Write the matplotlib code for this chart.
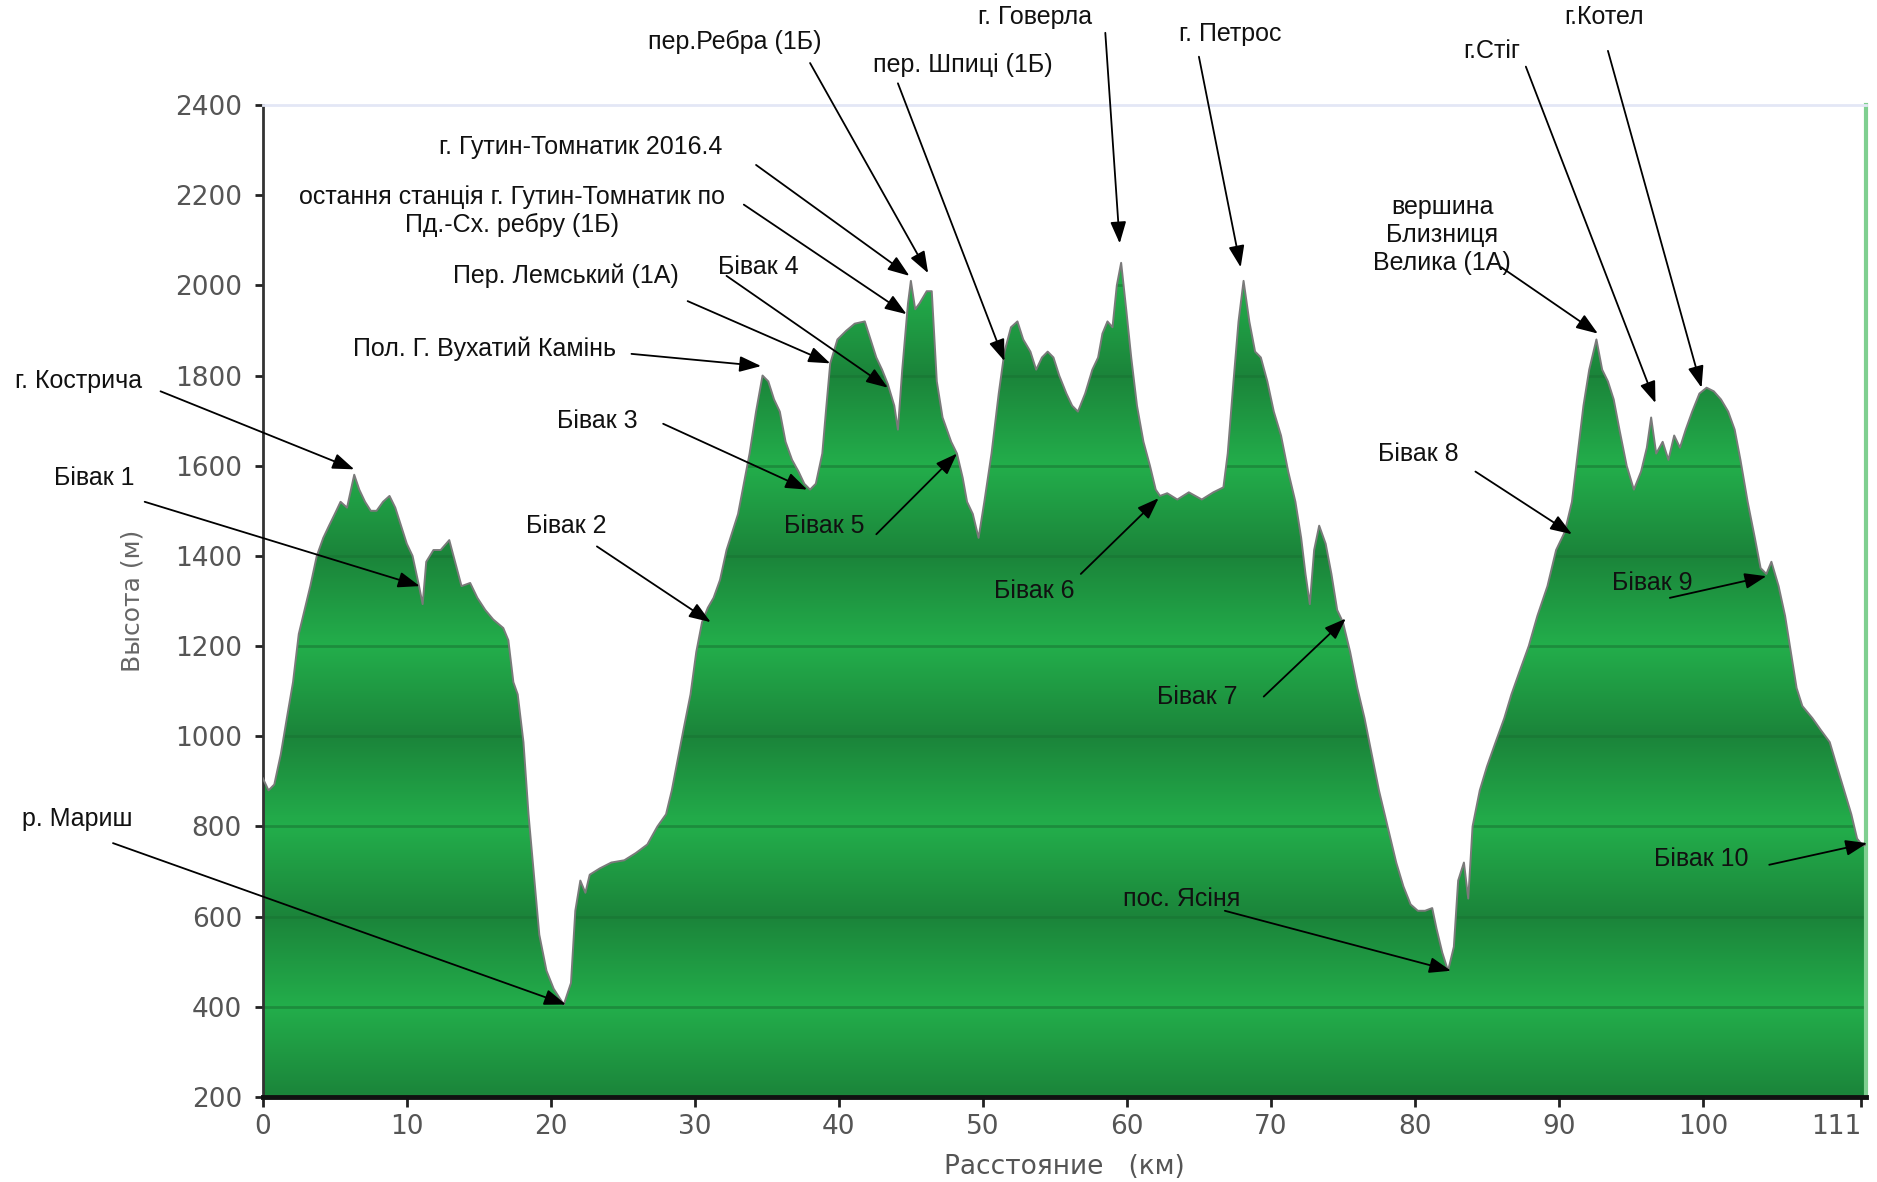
import numpy as np
import matplotlib
matplotlib.use("Agg")
import matplotlib.pyplot as plt
from matplotlib.patches import Polygon

plt.rcParams['font.family'] = ['Liberation Sans', 'DejaVu Sans']

# профиль маршрута: расстояние (км) и высота (м)
km = [0.0, 0.4, 0.8, 1.25, 1.67, 2.1, 2.5, 2.9, 3.3, 3.75, 4.2, 4.6, 5.0, 5.4, 5.85,
      6.35, 6.7, 7.1, 7.5, 7.9, 8.35, 8.8, 9.2, 9.6, 10.0, 10.4, 10.85, 11.1, 11.35,
      11.85, 12.35, 12.95, 13.35, 13.8, 14.4, 14.9, 15.45, 16.0, 16.7, 17.05, 17.4,
      17.7, 18.1, 18.45, 18.9, 19.2, 19.7, 20.2, 20.9, 21.4, 21.7, 22.05, 22.4, 22.7,
      23.4, 24.2, 25.1, 25.9, 26.7, 27.4, 28.0, 28.4, 28.8, 29.2, 29.7, 30.1, 30.5,
      30.9, 31.3, 31.75, 32.2, 32.6, 33.0, 33.4, 33.8, 34.25, 34.7, 35.1, 35.5, 35.9,
      36.3, 36.75, 37.2, 37.6, 38.0, 38.4, 38.85, 39.1, 39.4, 39.9, 40.5, 41.1, 41.8,
      42.2, 42.6, 43.0, 43.4, 43.85, 44.1, 44.4, 44.8, 45.0, 45.3, 45.6, 46.1, 46.45,
      46.8, 47.2, 47.8, 48.2, 48.6, 48.9, 49.3, 49.7, 50.1, 50.6, 51.1, 51.5, 51.95,
      52.4, 52.8, 53.3, 53.7, 54.1, 54.5, 54.9, 55.3, 55.8, 56.2, 56.6, 57.1, 57.6,
      58.0, 58.3, 58.65, 59.0, 59.3, 59.6, 59.95, 60.3, 60.7, 61.15, 61.6, 62.0, 62.3,
      62.8, 63.5, 64.3, 65.2, 66.0, 66.7, 67.0, 67.4, 67.75, 68.1, 68.5, 68.9, 69.3,
      69.75, 70.2, 70.7, 71.2, 71.7, 72.1, 72.4, 72.7, 73.0, 73.35, 73.8, 74.2, 74.6,
      75.0, 75.5, 76.0, 76.5, 77.0, 77.5, 78.1, 78.7, 79.2, 79.7, 80.2, 80.7, 81.2,
      81.5, 81.9, 82.3, 82.7, 83.0, 83.4, 83.7, 84.0, 84.5, 85.0, 85.6, 86.2, 86.7,
      87.3, 87.9, 88.5, 89.2, 89.8, 90.4, 90.9, 91.3, 91.7, 92.1, 92.6, 93.0, 93.4,
      93.8, 94.2, 94.7, 95.2, 95.7, 96.1, 96.4, 96.75, 97.2, 97.6, 98.0, 98.4, 98.8,
      99.25, 99.75, 100.25, 100.75, 101.25, 101.75, 102.2, 102.6, 103.1, 103.6, 104.0,
      104.4, 104.75, 105.25, 105.7, 106.1, 106.5, 106.9, 107.6, 108.2, 108.8, 109.3,
      109.8, 110.3, 110.7, 111.1, 111.3]
elev = [907, 880, 893, 960, 1040, 1120, 1227, 1280, 1333, 1400, 1440, 1467, 1493, 1520, 1507,
        1580, 1547, 1520, 1500, 1500, 1520, 1533, 1507, 1467, 1427, 1400, 1333, 1293, 1387,
        1413, 1413, 1435, 1387, 1333, 1340, 1307, 1280, 1259, 1240, 1213, 1120,
        1093, 987, 827, 667, 560, 480, 440, 405, 453, 613, 680, 653, 693,
        707, 720, 725, 741, 760, 800, 827, 880, 947, 1013, 1093, 1187, 1253,
        1285, 1307, 1347, 1413, 1453, 1493, 1560, 1627, 1720, 1800, 1787, 1747, 1720,
        1653, 1613, 1587, 1560, 1547, 1560, 1627, 1720, 1827, 1880, 1899, 1915, 1920,
        1880, 1840, 1813, 1781, 1733, 1680, 1813, 1960, 2010, 1947, 1960, 1987, 1987,
        1787, 1707, 1653, 1627, 1573, 1520, 1493, 1440, 1520, 1627, 1760, 1853, 1907,
        1920, 1880, 1853, 1813, 1840, 1853, 1840, 1800, 1760, 1733, 1720, 1760, 1813,
        1840, 1893, 1920, 1907, 2000, 2050, 1947, 1840, 1733, 1653, 1600, 1547, 1533,
        1539, 1525, 1541, 1525, 1541, 1552, 1627, 1787, 1920, 2010, 1920, 1853, 1840,
        1787, 1720, 1667, 1587, 1520, 1440, 1360, 1293, 1413, 1467, 1427, 1360, 1280,
        1253, 1187, 1107, 1040, 960, 880, 800, 720, 667, 627, 613, 613, 619,
        573, 520, 480, 533, 680, 720, 640, 800, 880, 933, 987, 1040, 1093,
        1147, 1200, 1267, 1333, 1413, 1453, 1520, 1627, 1733, 1813, 1880, 1813, 1787,
        1747, 1680, 1600, 1547, 1587, 1640, 1707, 1627, 1653, 1613, 1667, 1640, 1680,
        1720, 1760, 1773, 1765, 1747, 1720, 1680, 1613, 1520, 1440, 1373,
        1360, 1387, 1333, 1267, 1187, 1107, 1067, 1040, 1013, 987, 933,
        880, 827, 773, 757, 760]

y_ticks = [200, 400, 600, 800, 1000, 1200, 1400, 1600, 1800, 2000, 2200, 2400]
x_ticks = [0, 10, 20, 30, 40, 50, 60, 70, 80, 90, 100, 111]

# подписи: текст, точка на профиле (км, м)
notes = [
    ("г. Кострича", 6.35, 1592),
    ("Бівак 1", 10.9, 1333),
    ("р. Мариш", 21.05, 405),
    ("Бівак 2", 31.1, 1253),
    ("Пол. Г. Вухатий Камінь", 34.6, 1821),
    ("Бівак 3", 37.8, 1547),
    ("Пер. Лемський (1А)", 39.4, 1827),
    ("Бівак 4", 43.4, 1773),
    ("остання станція г. Гутин-Томнатик по\nПд.-Сх. ребру (1Б)", 44.7, 1936),
    ("г. Гутин-Томнатик 2016.4", 44.9, 2021),
    ("пер.Ребра (1Б)", 46.2, 2027),
    ("пер. Шпиці (1Б)", 51.5, 1832),
    ("Бівак 5", 48.2, 1627),
    ("г. Говерла", 59.5, 2093),
    ("г. Петрос", 67.9, 2040),
    ("Бівак 6", 62.2, 1528),
    ("Бівак 7", 75.2, 1261),
    ("пос. Ясіня", 82.5, 480),
    ("вершина\nБлизниця\nВелика (1А)", 92.7, 1893),
    ("г.Стіг", 96.7, 1739),
    ("г.Котел", 99.9, 1773),
    ("Бівак 8", 90.9, 1448),
    ("Бівак 9", 104.4, 1355),
    ("Бівак 10", 111.4, 763),
]
# где стоит текст и откуда идёт стрелка
text_pos = [(-12.8, 1787), (-11.7, 1573), (-12.9, 816), (21.05, 1467), (15.4, 1859),
            (23.2, 1699), (21.05, 2021), (34.4, 2040), (17.3, 2165), (22.05, 2307),
            (32.8, 2539), (48.6, 2488), (39.0, 1467), (53.6, 2595), (67.2, 2557),
            (53.6, 1323), (64.9, 1088), (63.8, 640), (81.9, 2112), (85.3, 2520),
            (93.1, 2595), (80.2, 1627), (96.5, 1339), (99.9, 728)]
tail_pos = [(-7.1, 1765), (-8.2, 1520), (-10.4, 763), (23.2, 1421), (25.6, 1848),
            (27.8, 1693), (29.5, 1965), (32.2, 2021), (33.4, 2179), (34.25, 2267),
            (38.0, 2493), (44.1, 2448), (42.6, 1448), (58.5, 2560), (65.0, 2507),
            (56.8, 1360), (69.5, 1088), (66.8, 613), (86.0, 2040), (87.7, 2485),
            (93.4, 2520), (84.2, 1587), (97.7, 1307), (104.6, 715)]

xmax = 111.3
ymin, ymax = 200, 2400

fig = plt.figure(figsize=(18.77, 11.82), dpi=100)
ax = fig.add_axes([0.140, 0.0719, 0.854, 0.8393])
ax.set_xlim(0, xmax)
ax.set_ylim(ymin, ymax)

# полосатая зелёная заливка
verts = [(0, ymin)] + list(zip(km, elev)) + [(km[-1], ymin)]
poly = Polygon(verts, closed=True, facecolor='none', edgecolor='none', transform=ax.transData)
ax.add_patch(poly)

yy = np.linspace(ymin, ymax, 2200)
t = np.abs(((yy - 200) / 400.0) % 1 * 2 - 1)
light = np.array([0x23, 0xae, 0x4b]) / 255.0
dark = np.array([0x1b, 0x84, 0x3a]) / 255.0
img = (light[None, :] + t[:, None] * (dark - light)[None, :])[:, None, :]
im = ax.imshow(img, origin='lower', extent=[0, xmax, ymin, ymax], aspect='auto',
               interpolation='bilinear', zorder=1)
im.set_clip_path(poly)

for yv in y_ticks[1:-1]:
    ln, = ax.plot([0, xmax], [yv, yv], color='#187332', lw=2, alpha=0.55, zorder=2)
    ln.set_clip_path(poly)

ax.plot(km, elev, color='#7a7a7a', lw=1.4, zorder=3)

# подписи и стрелки
for (label, hx, hy), (tx, ty), (sx, sy) in zip(notes, text_pos, tail_pos):
    ax.text(tx, ty, label, ha='center', va='center', fontsize=18, color='#111111',
            linespacing=1.2, clip_on=False, zorder=5)
    ax.annotate('', xy=(hx, hy), xytext=(sx, sy), annotation_clip=False, zorder=5,
                arrowprops=dict(arrowstyle='-|>,head_length=0.6,head_width=0.22',
                                mutation_scale=22, color='black', lw=1.3,
                                shrinkA=0, shrinkB=0))

# оси
ax.set_xticks(x_ticks)
ax.set_yticks(y_ticks)
ax.tick_params(axis='both', direction='out', length=6, width=2, color='#222222',
               labelsize=19, labelcolor='#555555')
ax.tick_params(axis='y', pad=9)
ax.tick_params(axis='x', length=7, pad=5)
for lab in ax.get_xticklabels() + ax.get_yticklabels():
    lab.set_family('DejaVu Sans')
last = ax.get_xticklabels()[-1]
last.set_horizontalalignment('right')

ax.spines['left'].set_color('#333333')
ax.spines['left'].set_linewidth(2)
ax.spines['bottom'].set_color('#111111')
ax.spines['bottom'].set_linewidth(3.5)
ax.spines['top'].set_color('#e3e7f6')
ax.spines['top'].set_linewidth(2)
ax.spines['right'].set_color('#7fcf90')
ax.spines['right'].set_linewidth(3)

ax.set_xlabel('Расстояние   (км)', fontsize=19, color='#555555', family='DejaVu Sans', labelpad=10)
ax.set_ylabel('Высота (м)', fontsize=18, color='#666666', family='DejaVu Sans', labelpad=22)

fig.savefig('out.png', dpi=100)
